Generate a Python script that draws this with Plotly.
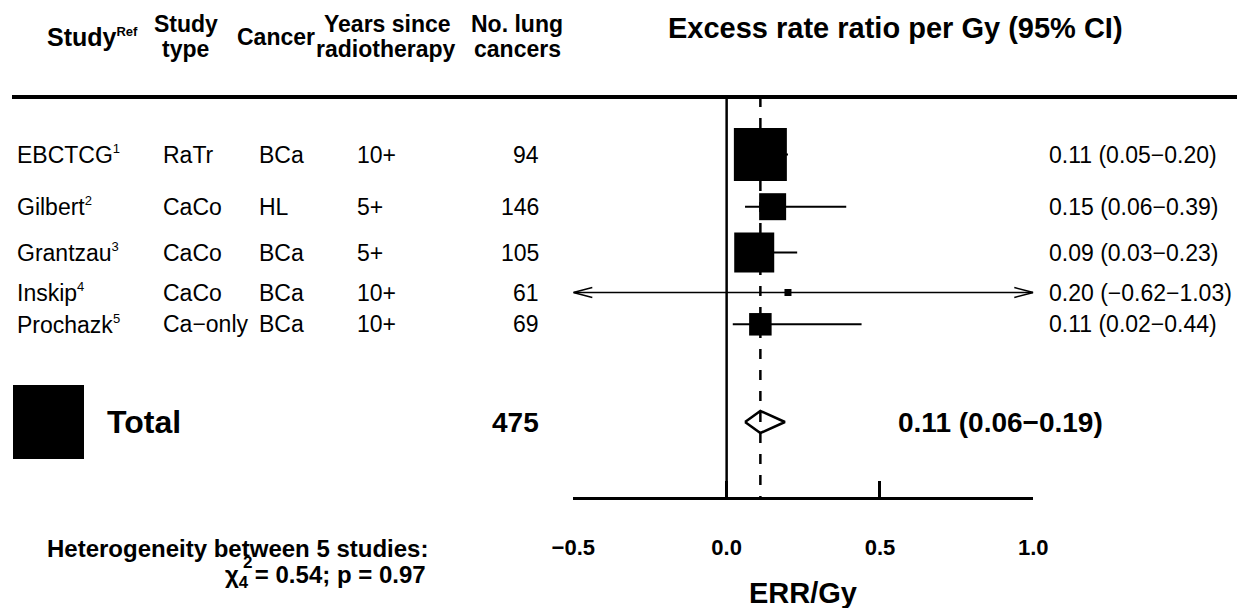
import plotly.graph_objects as go

# ---------------- data ----------------
studies = ["EBCTCG", "Gilbert", "Grantzau", "Inskip", "Prochazk"]
refs = ["1", "2", "3", "4", "5"]
study_type = ["RaTr", "CaCo", "CaCo", "CaCo", "Ca\u2212only"]
cancer = ["BCa", "HL", "BCa", "BCa", "BCa"]
years = ["10+", "5+", "5+", "10+", "10+"]
n_lung = [94, 146, 105, 61, 69]
err = [0.11, 0.15, 0.09, 0.20, 0.11]
err_lo = [0.05, 0.06, 0.03, -0.62, 0.02]
err_hi = [0.20, 0.39, 0.23, 1.03, 0.44]
total_n = 475
total_err, total_lo, total_hi = 0.11, 0.06, 0.19
het_studies, het_df, het_chi2, het_p = 5, 4, 0.54, 0.97
x_ticks = [-0.5, 0.0, 0.5, 1.0]
x_ticktext = ["\u22120.5", "0.0", "0.5", "1.0"]

# ---------------- layout constants (pixels) ----------------
W, H = 1237, 608
FONT = "Liberation Sans, Arial, sans-serif"
ROW_Y = [154.5, 206.7, 252.5, 292.5, 324.3]
TOTAL_Y = 422
BOX_PX = [53, 27, 40, 7, 22.5]
Y_TOP, Y_BOT = 97, 497
XPX_MIN, XPX_MAX = 573.3, 1033.3
X_MIN, X_MAX = -0.5, 1.0
DIAMOND_HALF = 11
ARROW_DX = 0.062
ARROW_DY = 5


def px(x):
    return x / W


def py(y):
    return 1 - y / H


def fmt(v):
    return f"{v:.2f}".replace("-", "\u2212")


def sup(t, size):
    return f'<sup><span style="font-size:{size}px">{t}</span></sup>'


fig = go.Figure()

# CI lines
cx, cy = [], []
ax_, ay_ = [], []
for i in range(len(studies)):
    lo, hi, y = err_lo[i], err_hi[i], ROW_Y[i]
    if lo < X_MIN or hi > X_MAX:
        l2, h2 = max(lo, X_MIN), min(hi, X_MAX)
        ax_ += [l2, h2, None]
        ay_ += [y, y, None]
        if lo < X_MIN:
            ax_ += [l2 + ARROW_DX, l2, l2 + ARROW_DX, None]
            ay_ += [y - ARROW_DY, y, y + ARROW_DY, None]
        if hi > X_MAX:
            ax_ += [h2 - ARROW_DX, h2, h2 - ARROW_DX, None]
            ay_ += [y - ARROW_DY, y, y + ARROW_DY, None]
    else:
        cx += [lo, hi, None]
        cy += [y, y, None]

fig.add_trace(go.Scatter(x=cx, y=cy, mode="lines", line=dict(color="black", width=2),
                         hoverinfo="skip", showlegend=False, cliponaxis=False))
fig.add_trace(go.Scatter(x=ax_, y=ay_, mode="lines", line=dict(color="black", width=1.4),
                         hoverinfo="skip", showlegend=False, cliponaxis=False))

# boxes
fig.add_trace(go.Scatter(x=err, y=ROW_Y, mode="markers",
                         marker=dict(symbol="square", size=BOX_PX, color="black", opacity=1,
                                     line=dict(width=0)),
                         hoverinfo="skip", showlegend=False, cliponaxis=False))

# summary diamond
fig.add_trace(go.Scatter(
    x=[total_lo, total_err, total_hi, total_err, total_lo],
    y=[TOTAL_Y, TOTAL_Y - DIAMOND_HALF, TOTAL_Y, TOTAL_Y + DIAMOND_HALF, TOTAL_Y],
    mode="lines", line=dict(color="black", width=2.5),
    hoverinfo="skip", showlegend=False, cliponaxis=False))

shapes = [
    dict(type="line", xref="paper", yref="paper", x0=px(12), x1=1, y0=py(97), y1=py(97),
         line=dict(color="black", width=4)),
    dict(type="line", xref="x", yref="y domain", x0=0, x1=0, y0=0, y1=1,
         line=dict(color="black", width=2.5), layer="below"),
    dict(type="line", xref="x", yref="y domain", x0=total_err, x1=total_err, y0=1, y1=0,
         line=dict(color="black", width=2.5, dash="10px,11px"), layer="below"),
    dict(type="rect", xref="paper", yref="y", x0=px(13), x1=px(84), y0=TOTAL_Y - 37, y1=TOTAL_Y + 37,
         fillcolor="black", line=dict(width=0)),
]

anns = []


def ann(text, xpx, y, anchor="left", size=23, yref="y"):
    anns.append(dict(text=text, x=px(xpx), xref="paper", y=y, yref=yref,
                     xanchor=anchor, yanchor="middle", showarrow=False,
                     font=dict(family=FONT, size=size, color="black")))


# header
HL1, HL2, HS = 24, 49, 37
ann(f"<b>Study{sup('Ref', 13)}</b>", 92, py(HS), "center", 25, "paper")
ann("<b>Study</b>", 186, py(HL1), "center", 23, "paper")
ann("<b>type</b>", 186, py(HL2), "center", 23, "paper")
ann("<b>Cancer</b>", 276, py(HS), "center", 23, "paper")
ann("<b>Years since</b>", 387, py(HL1), "center", 23, "paper")
ann("<b>radiotherapy</b>", 386, py(HL2), "center", 23, "paper")
ann("<b>No. lung</b>", 517, py(HL1), "center", 23, "paper")
ann("<b>cancers</b>", 517, py(HL2), "center", 23, "paper")
ann("<b>Excess rate ratio per Gy (95% CI)</b>", 895, py(28), "center", 29, "paper")

# rows
for i in range(len(studies)):
    y = ROW_Y[i]
    ann(f"{studies[i]}{sup(refs[i], 13)}", 15, y)
    ann(study_type[i], 161, y)
    ann(cancer[i], 257, y)
    ann(years[i], 355, y)
    ann(str(n_lung[i]), 541, y, "right")
    ann(f"{fmt(err[i])} ({fmt(err_lo[i])}\u2212{fmt(err_hi[i])})", 1047, y)

# total row
ann("<b>Total</b>", 105, TOTAL_Y, "left", 32)
ann(f"<b>{total_n}</b>", 541, TOTAL_Y, "right", 28)
ann(f"<b>{fmt(total_err)} ({fmt(total_lo)}\u2212{fmt(total_hi)})</b>", 896, TOTAL_Y, "left", 28)

# heterogeneity
ann(f"<b>Heterogeneity between {het_studies} studies:</b>", 430, py(548), "right", 24, "paper")
ann(f"<b>\u03c7<sub>{het_df}</sub> = {het_chi2:.2f}; p = {het_p:.2f}</b>", 428, py(576), "right", 24, "paper")
ann("<b>2</b>", 247, py(562), "center", 17, "paper")

# axis title
ann("<b>ERR/Gy</b>", 803, py(593), "center", 29, "paper")

fig.update_layout(
    width=W, height=H, margin=dict(l=0, r=0, t=0, b=0, autoexpand=False),
    paper_bgcolor="white", plot_bgcolor="white",
    shapes=shapes, annotations=anns, showlegend=False,
    xaxis=dict(domain=[px(XPX_MIN), px(XPX_MAX)], range=[X_MIN, X_MAX],
               showline=True, linecolor="black", linewidth=3,
               ticks="inside", ticklen=16, tickwidth=3, tickcolor="black",
               tickvals=x_ticks, ticktext=[f"<b>{t}</b>" for t in x_ticktext],
               tickfont=dict(family=FONT, size=22, color="black"),
               ticklabelstandoff=29,
               showgrid=False, zeroline=False, fixedrange=True),
    yaxis=dict(domain=[py(Y_BOT), py(Y_TOP)], range=[Y_BOT, Y_TOP], visible=False,
               showgrid=False, zeroline=False, fixedrange=True),
)

fig.write_html("out.html")
